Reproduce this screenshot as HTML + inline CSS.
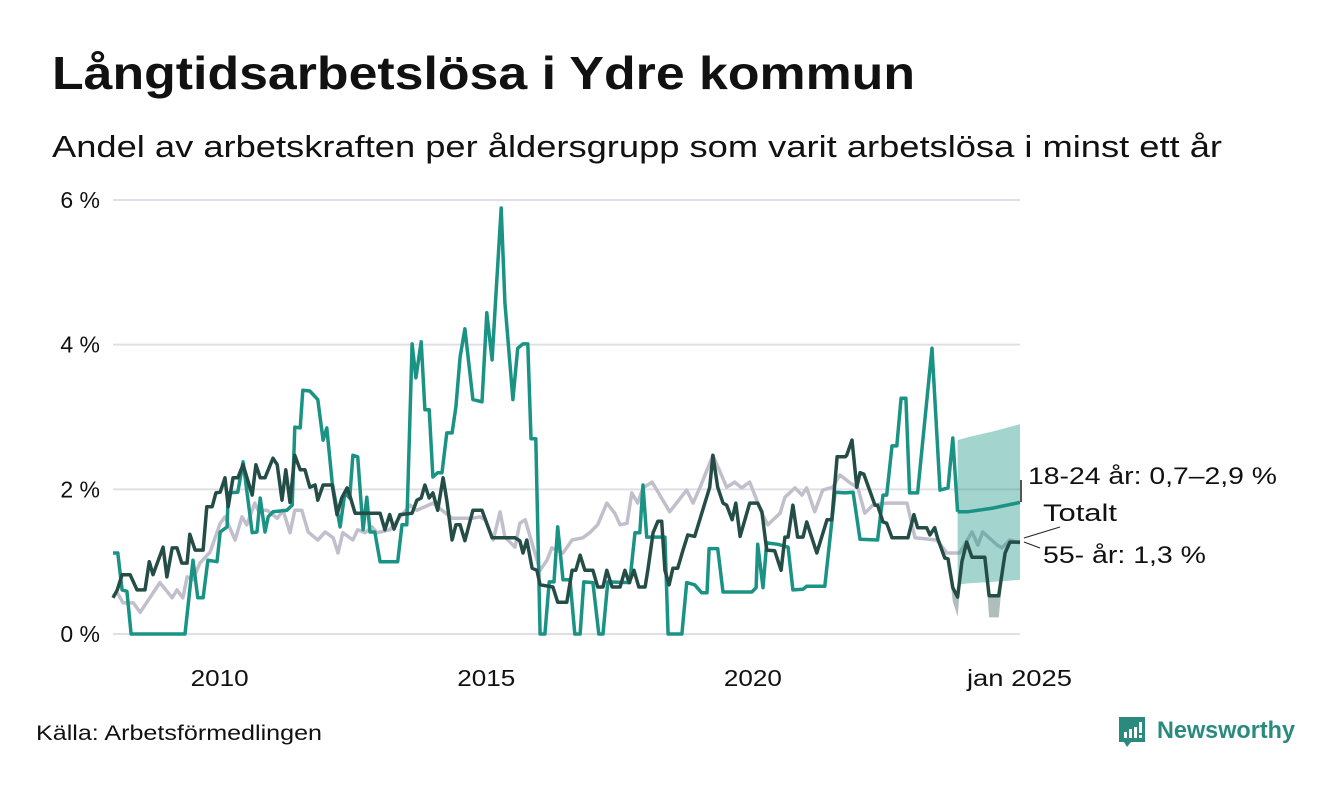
<!DOCTYPE html>
<html><head><meta charset="utf-8">
<style>
html,body{margin:0;padding:0;background:#fff;}
body{width:1340px;height:780px;overflow:hidden;font-family:"Liberation Sans",sans-serif;}
</style></head>
<body>
<svg id="chart" width="1340" height="780" xmlns="http://www.w3.org/2000/svg" font-family="Liberation Sans, sans-serif">
<text x="52" y="89" font-size="46" font-weight="bold" fill="#111" textLength="863" lengthAdjust="spacingAndGlyphs">Långtidsarbetslösa i Ydre kommun</text>
<text x="52" y="157" font-size="31" fill="#111" textLength="1170" lengthAdjust="spacingAndGlyphs">Andel av arbetskraften per åldersgrupp som varit arbetslösa i minst ett år</text>
<g id="grid"></g>
<g id="yticks"></g>
<g id="xticks"></g>
<g id="plot"></g>
<line x1="1021" y1="480" x2="1021" y2="502" stroke="#555" stroke-width="2"/>
<text x="1028" y="484" font-size="24" fill="#111" textLength="249" lengthAdjust="spacingAndGlyphs">18-24 år: 0,7–2,9 %</text>
<text x="1043" y="521" font-size="24" fill="#111" textLength="74" lengthAdjust="spacingAndGlyphs">Totalt</text>
<text x="1043" y="563" font-size="24" fill="#111" textLength="163" lengthAdjust="spacingAndGlyphs">55- år: 1,3 %</text>
<line x1="1024" y1="538" x2="1060" y2="527" stroke="#222" stroke-width="1"/>
<line x1="1024" y1="542" x2="1040" y2="548" stroke="#222" stroke-width="1"/>
<text x="36" y="740" font-size="21" fill="#111" textLength="286" lengthAdjust="spacingAndGlyphs">Källa: Arbetsförmedlingen</text>
<g>
<path d="M1119 717 h26 v25 h-14 l-4 5 l-3 -5 h-5 z" fill="#2a8a7e"/>
<rect x="1124" y="732" width="3" height="6" fill="#fff"/><rect x="1129" y="729" width="3" height="9" fill="#fff"/><rect x="1134" y="727" width="3" height="11" fill="#fff"/><rect x="1139" y="722" width="3" height="11" fill="#fff"/><rect x="1139" y="735" width="3" height="3" fill="#fff"/>
<text x="1157" y="738" font-size="24" font-weight="bold" fill="#2a8a7e" textLength="138" lengthAdjust="spacingAndGlyphs">Newsworthy</text>
</g>
</svg>
<script>
const yTicks=[0,2,4,6];
const yTickLabels=["0 %","2 %","4 %","6 %"];
const xTicks=[2010,2015,2020,2025];
const xTickLabels=["2010","2015","2020","jan 2025"];

const datesYoung=[2008.00,2008.09,2008.17,2008.26,2008.34,2009.35,2009.50,2009.59,2009.69,2009.78,2009.95,2010.01,2010.14,2010.16,2010.34,2010.44,2010.61,2010.70,2010.76,2010.85,2010.91,2011.00,2011.26,2011.36,2011.41,2011.51,2011.56,2011.69,2011.84,2011.94,2012.01,2012.11,2012.26,2012.35,2012.44,2012.50,2012.59,2012.69,2012.76,2012.82,2012.91,2013.01,2013.34,2013.42,2013.51,2013.61,2013.68,2013.78,2013.85,2013.93,2014.00,2014.09,2014.17,2014.26,2014.36,2014.43,2014.51,2014.60,2014.75,2014.92,2015.01,2015.11,2015.18,2015.28,2015.35,2015.50,2015.59,2015.69,2015.78,2015.84,2015.93,2016.01,2016.10,2016.18,2016.27,2016.34,2016.44,2016.57,2016.66,2016.76,2016.83,2017.00,2017.11,2017.19,2017.28,2017.69,2017.79,2017.88,2017.94,2018.01,2018.35,2018.41,2018.67,2018.76,2018.91,2019.04,2019.14,2019.18,2019.34,2019.44,2019.98,2020.06,2020.09,2020.19,2020.26,2020.47,2020.66,2020.75,2020.94,2021.01,2021.35,2021.54,2021.73,2021.88,2022.01,2022.34,2022.44,2022.51,2022.61,2022.70,2022.78,2022.87,2022.94,2023.09,2023.36,2023.51,2023.66,2023.75,2023.84];
const valuesYoung=[1.12,1.12,0.61,0.59,0,0,1.02,0.50,0.50,1.02,1.00,1.41,1.48,1.95,1.96,2.38,1.40,1.41,1.88,1.41,1.62,1.69,1.71,1.78,2.86,2.85,3.37,3.36,3.24,2.68,2.85,2.09,1.48,1.95,1.88,2.47,2.45,1.44,1.89,1.41,1.41,1.00,1.00,1.51,1.51,4.01,3.54,4.04,3.10,3.10,2.17,2.23,2.23,2.78,2.78,3.14,3.83,4.22,3.24,3.21,4.44,3.79,4.66,5.89,4.58,3.24,3.95,4.01,4.01,2.70,2.70,0,0,0.72,0.72,1.48,0.75,0.75,0,0,0.72,0.71,0,0,0.72,0.71,1.40,1.40,2.06,1.34,1.34,0,0,0.71,0.68,0.57,0.57,1.18,1.18,0.58,0.58,0.64,1.24,0.64,1.26,1.24,1.20,0.61,0.62,0.66,0.66,1.96,1.95,1.96,1.31,1.30,1.92,1.92,2.60,2.60,3.26,3.26,1.95,1.95,3.95,1.99,2.02,2.71,1.69];
const datesYoungForecast=[2023.84,2024.03,2024.5,2025.01];
const meanYoungForecast=[1.69,1.69,1.74,1.82];
const lowYoungForecast=[0.68,0.70,0.72,0.75];
const highYoungForecast=[2.68,2.72,2.80,2.90];

const datesOld=[2008.00,2008.08,2008.17,2008.32,2008.45,2008.60,2008.68,2008.75,2008.94,2009.01,2009.11,2009.20,2009.29,2009.39,2009.44,2009.54,2009.69,2009.76,2009.86,2009.93,2010.01,2010.10,2010.16,2010.25,2010.34,2010.44,2010.61,2010.68,2010.76,2010.85,2011.00,2011.08,2011.17,2011.24,2011.32,2011.41,2011.51,2011.60,2011.69,2011.79,2011.84,2011.94,2012.11,2012.20,2012.29,2012.39,2012.44,2012.54,2013.01,2013.10,2013.19,2013.27,2013.38,2013.61,2013.70,2013.78,2013.85,2013.93,2014.00,2014.09,2014.19,2014.26,2014.36,2014.43,2014.51,2014.60,2014.75,2014.92,2015.11,2015.54,2015.63,2015.69,2015.76,2015.86,2015.95,2016.01,2016.25,2016.34,2016.51,2016.61,2016.68,2016.76,2016.85,2017.00,2017.09,2017.19,2017.26,2017.36,2017.51,2017.60,2017.68,2017.77,2017.86,2017.98,2018.03,2018.13,2018.22,2018.29,2018.35,2018.43,2018.50,2018.59,2018.69,2018.78,2018.91,2019.19,2019.25,2019.34,2019.44,2019.51,2019.61,2019.68,2019.76,2019.94,2020.09,2020.17,2020.26,2020.41,2020.53,2020.60,2020.66,2020.75,2020.84,2020.94,2021.01,2021.20,2021.39,2021.48,2021.58,2021.73,2021.76,2021.86,2021.95,2022.01,2022.08,2022.29,2022.34,2022.44,2022.51,2022.61,2022.91,2023.02,2023.09,2023.26,2023.32,2023.41,2023.47,2023.60,2023.66,2023.75,2023.84,2023.92,2024.01,2024.11,2024.35,2024.43,2024.61,2024.73,2024.82,2025.01];
const valuesOld=[0.50,0.61,0.82,0.82,0.61,0.61,1.00,0.82,1.20,0.79,1.19,1.19,0.98,0.98,1.38,1.16,1.16,1.76,1.76,1.95,1.96,2.16,1.76,2.16,2.16,2.34,1.92,2.34,2.16,2.16,2.43,2.34,1.85,2.27,1.82,2.47,2.27,2.27,2.03,2.06,1.85,2.06,2.06,1.65,1.88,2.02,1.92,1.67,1.67,1.44,1.65,1.45,1.65,1.67,1.85,1.88,2.06,1.88,1.95,1.71,2.16,1.85,1.30,1.51,1.51,1.29,1.71,1.71,1.33,1.33,1.29,1.12,1.30,0.91,0.88,0.68,0.65,0.44,0.44,0.88,0.88,1.09,0.88,0.88,0.65,0.65,0.88,0.65,0.65,0.88,0.71,0.88,0.65,0.65,0.88,1.40,1.56,1.56,0.88,0.68,0.91,0.91,1.16,1.37,1.35,2.03,2.47,2.03,1.81,1.78,1.58,1.81,1.35,1.81,1.81,1.69,1.16,1.15,0.88,1.34,1.34,1.78,1.34,1.34,1.55,1.12,1.58,1.58,2.45,2.45,2.47,2.68,2.03,2.23,2.21,1.78,1.78,1.55,1.53,1.33,1.33,1.65,1.47,1.47,1.37,1.47,1.31,1.05,1.04,0.64,0.51,1.00,1.27,1.06,1.06,0.53,0.53,1.12,1.27,1.27];
const datesOldBandA=[2023.66,2023.75,2023.84,2023.92];
const lowOldBandA=[1.04,0.45,0.24,0.95];
const highOldBandA=[1.04,0.64,0.51,1.00];
const datesOldBandB=[2024.35,2024.43,2024.61,2024.73];
const lowOldBandB=[1.06,0.23,0.23,1.12];
const highOldBandB=[1.06,0.53,0.53,1.12];

const datesTotal=[2008.00,2008.08,2008.19,2008.38,2008.51,2008.88,2009.11,2009.20,2009.31,2009.39,2009.50,2009.63,2009.82,2010.01,2010.10,2010.29,2010.42,2010.51,2010.66,2010.72,2010.89,2011.08,2011.19,2011.32,2011.41,2011.54,2011.66,2011.84,2011.98,2012.13,2012.22,2012.31,2012.50,2012.59,2012.73,2012.86,2012.95,2013.19,2013.57,2013.70,2014.00,2014.17,2014.36,2014.73,2014.88,2014.98,2015.13,2015.26,2015.35,2015.54,2015.63,2015.73,2015.88,2016.01,2016.14,2016.23,2016.44,2016.61,2016.81,2016.94,2017.09,2017.26,2017.41,2017.51,2017.64,2017.73,2017.84,2017.94,2018.11,2018.44,2018.76,2018.88,2019.01,2019.25,2019.51,2019.66,2019.79,2019.94,2020.17,2020.28,2020.51,2020.60,2020.79,2020.92,2021.01,2021.16,2021.31,2021.50,2021.63,2021.82,2021.97,2022.10,2022.25,2022.51,2022.89,2023.04,2023.45,2023.64,2023.88,2024.11,2024.22,2024.31,2024.58,2024.67,2024.82,2025.01];
const valuesTotal=[0.53,0.57,0.43,0.43,0.30,0.71,0.50,0.61,0.50,0.79,0.75,0.98,1.13,1.53,1.62,1.30,1.62,1.51,1.81,1.71,1.71,1.60,1.71,1.40,1.71,1.71,1.41,1.30,1.41,1.33,1.12,1.40,1.30,1.44,1.40,1.48,1.40,1.44,1.78,1.71,1.81,1.71,1.60,1.60,1.62,1.58,1.30,1.69,1.34,1.20,1.53,1.58,1.20,0.88,1.02,1.19,1.12,1.30,1.33,1.40,1.51,1.81,1.67,1.51,1.53,1.95,1.81,2.02,2.10,1.69,1.99,1.81,2.03,2.47,2.03,2.10,2.02,2.10,1.67,1.51,1.67,1.89,2.02,1.92,2.02,1.69,1.99,2.03,2.20,2.09,2.02,1.67,1.78,1.81,1.81,1.33,1.30,1.12,1.12,1.41,1.23,1.41,1.23,1.19,1.30,1.26];

const NS='http://www.w3.org/2000/svg';
const X0=113,X1=1020,Y0=634,Y1=200;
function xs(t){return X0+(t-2008)/(2025.01-2008)*(X1-X0);}
function ys(v){return Y0-(v/6)*(Y0-Y1);}
function mk(tag,attrs,parent){const e=document.createElementNS(NS,tag);for(const k in attrs)e.setAttribute(k,attrs[k]);parent.appendChild(e);return e;}
function linePath(d,v){return d.map((t,i)=>(i?'L':'M')+xs(t).toFixed(1)+' '+ys(v[i]).toFixed(1)).join(' ');}
function bandPath(d,lo,hi){let p=d.map((t,i)=>(i?'L':'M')+xs(t).toFixed(1)+' '+ys(hi[i]).toFixed(1)).join(' ');for(let i=d.length-1;i>=0;i--)p+=' L'+xs(d[i]).toFixed(1)+' '+ys(lo[i]).toFixed(1);return p+' Z';}

const grid=document.getElementById('grid'),yt=document.getElementById('yticks'),xt=document.getElementById('xticks'),plot=document.getElementById('plot');
yTicks.forEach((v,i)=>{
  const l=mk('line',{x1:X0,x2:X1,y1:ys(v),y2:ys(v),stroke:'#e0dfe6','stroke-width':2},grid);
  
  
  const t=mk('text',{x:100,y:ys(v)+8,'font-size':23,'text-anchor':'end',fill:'#111'},yt);
  t.textContent=yTickLabels[i];
  
  
});
xTicks.forEach((v,i)=>{
  const w=xTickLabels[i].length>4?105:58;
  const t=mk('text',{x:xs(v),y:686,'font-size':23,'text-anchor':'middle',fill:'#111',textLength:w,lengthAdjust:'spacingAndGlyphs'},xt);
  t.textContent=xTickLabels[i];
  
  
});
const lt=mk('path',{d:linePath(datesTotal,valuesTotal),fill:'none',stroke:'#c2bfcc','stroke-width':3.5,'stroke-linejoin':'round'},plot);


const by=mk('path',{d:bandPath(datesYoungForecast,lowYoungForecast,highYoungForecast),fill:'#1a9385','fill-opacity':0.4},plot);


const ba=mk('path',{d:bandPath(datesOldBandA,lowOldBandA,highOldBandA),fill:'#5f7c78','fill-opacity':0.5},plot);


const bb=mk('path',{d:bandPath(datesOldBandB,lowOldBandB,highOldBandB),fill:'#5f7c78','fill-opacity':0.5},plot);


const ly=mk('path',{d:linePath(datesYoung,valuesYoung),fill:'none',stroke:'#1a9385','stroke-width':3.5,'stroke-linejoin':'round'},plot);


const lf=mk('path',{d:linePath(datesYoungForecast,meanYoungForecast),fill:'none',stroke:'#1a9385','stroke-width':3.5},plot);


const lo=mk('path',{d:linePath(datesOld,valuesOld),fill:'none',stroke:'#254d47','stroke-width':3.5,'stroke-linejoin':'round'},plot);


</script>
</body></html>
